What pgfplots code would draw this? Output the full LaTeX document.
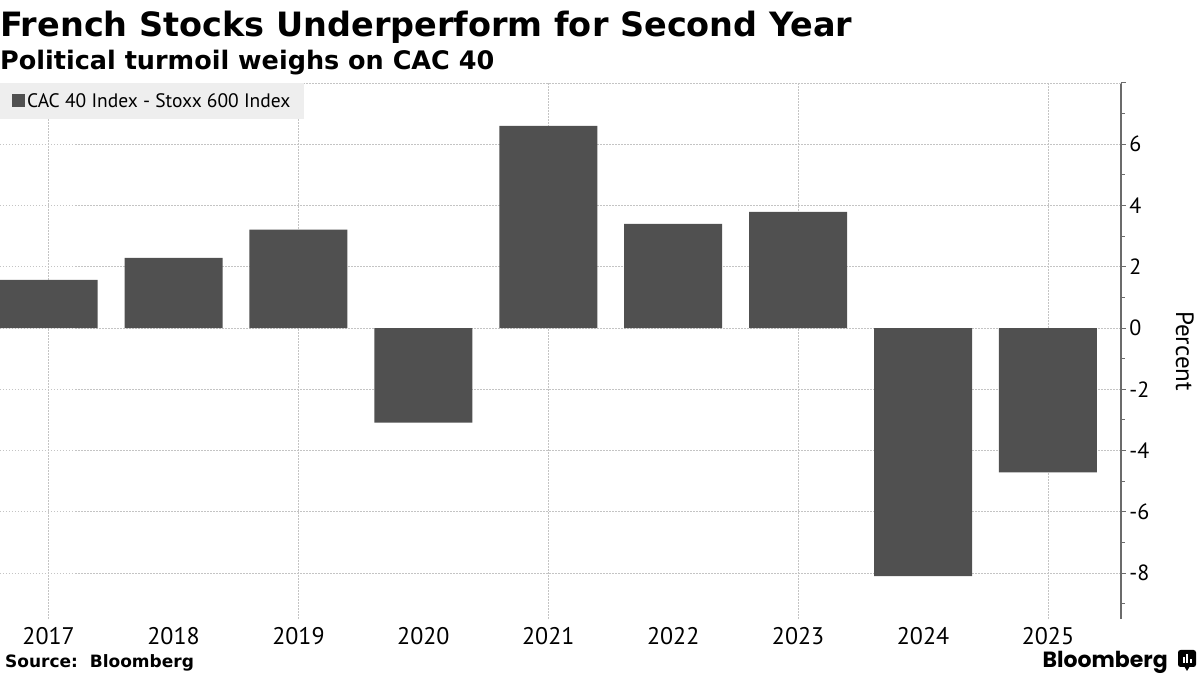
\documentclass[border=0pt]{standalone}
\usepackage{pgfplots}
\pgfplotsset{compat=1.18}
\usepackage{fontspec}
\setmainfont{PT Sans}
\newfontfamily\headfont{DejaVu Sans}
\newfontfamily\logofont{Poppins}
\definecolor{barcol}{HTML}{505050}
\definecolor{gridcol}{HTML}{C4C4C4}
\definecolor{axiscol}{HTML}{6B6B6B}
\definecolor{legbg}{HTML}{EEEEEE}

% CAC 40 minus Stoxx 600, yearly, percent
\pgfplotstableread{
year diff
2017 1.57
2018 2.29
2019 3.21
2020 -3.09
2021 6.60
2022 3.40
2023 3.79
2024 -8.10
2025 -4.71
}\spread

\begin{document}
\begin{tikzpicture}[x=1pt,y=1pt]
\path[use as bounding box] (0,0) rectangle (1200,675);

\node[anchor=base west, inner sep=0] at (0,638)
  {\headfont\bfseries\fontsize{33.5}{38}\selectfont French Stocks Underperform for Second Year};
\node[anchor=base west, inner sep=0] at (0,605)
  {\headfont\bfseries\fontsize{25.5}{28}\selectfont Political turmoil weighs on CAC 40};
\node[anchor=base west, inner sep=0] at (5,7)
  {\headfont\bfseries\fontsize{17}{20}\selectfont Source:\ \ Bloomberg};
\node[anchor=base east, inner sep=0] at (1168,7)
  {\logofont\bfseries\fontsize{22}{24}\selectfont Bloomberg};
% logo mark
\fill[black, rounded corners=2.5pt] (1178,8) rectangle (1196,25);
\fill[black] (1184,9) -- (1187,4) -- (1190,9) -- cycle;
\fill[white] (1182.5,12) rectangle (1184.5,18);
\fill[white] (1186,12) rectangle (1188,21);
\fill[white] (1189.5,12) rectangle (1191.5,16);

\begin{axis}[
  at={(0pt,56pt)}, anchor=south west,
  width=1121pt, height=536pt, scale only axis,
  xmin=2016.611, xmax=2025.584,
  ymin=-9.5, ymax=8,
  ybar, bar width=98pt,
  axis x line=bottom, axis y line=right,
  x axis line style={draw=none},
  y axis line style={-, draw=axiscol, line width=1.3pt},
  xtick={2017,2018,2019,2020,2021,2022,2023,2024,2025},
  xticklabels={2017,2018,2019,2020,2021,2022,2023,2024,2025},
  xtick style={draw=none},
  extra x ticks={2017,2019,2021,2023,2025},
  extra x tick labels={},
  extra x tick style={grid=major, major tick length=0pt, tick style={draw=none}},
  ytick={-8,-6,-4,-2,0,2,4,6},
  yticklabels={-8,-6,-4,-2,0,2,4,6},
  extra y ticks={8},
  extra y tick labels={},
  extra y tick style={grid=major},
  minor ytick={-9,-7,-5,-3,-1,1,3,5,7},
  ymajorgrids,
  major grid style={gridcol, dash pattern=on 1.5pt off 1.5pt, line width=0.8pt},
  tick align=outside,
  major tick length=5pt, minor tick length=4pt,
  tick style={axiscol, line width=1pt},
  yticklabel style={font=\fontsize{22}{24}\selectfont, anchor=west, xshift=0pt},
  xticklabel style={font=\fontsize{24}{26}\selectfont},
  ylabel={Percent},
  ylabel style={at={(axis description cs:1,0.5)}, anchor=center, rotate=180,
    xshift=0pt, yshift=64pt, font=\fontsize{25}{28}\selectfont},
  legend style={at={(0,1)}, anchor=north west, draw=none, fill=legbg,
    font=\fontsize{19.5}{21}\selectfont, inner xsep=12pt, inner ysep=8pt},
  legend image code/.code={\fill[barcol] (0pt,-6.5pt) rectangle (13pt,6.5pt);},
  legend entries={CAC 40 Index - Stoxx 600 Index},
]
\addplot[fill=barcol, draw=none] table[x=year, y=diff] {\spread};
\end{axis}
\end{tikzpicture}
\end{document}
